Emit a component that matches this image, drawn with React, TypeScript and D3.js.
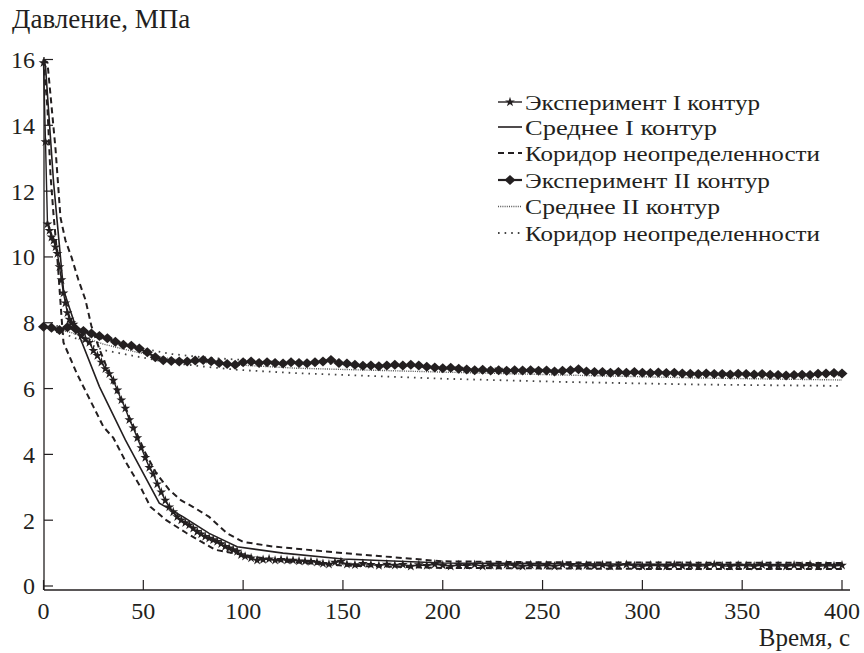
import React from "react";
import * as d3 from "d3";

// Эксперимент I контур [время, давление]
const expI: [number, number][] = [
  [0, 15.9], [1, 13.5], [2, 11.0], [3, 10.8], [4, 10.6], [5, 10.5], [6, 10.3], [7, 10.1], [8, 9.7], [9, 9.3],
  [10, 8.9], [11, 8.6], [12, 8.3], [13, 8.1], [14, 8.0], [15, 7.95], [17, 7.75], [19, 7.6], [21, 7.5], [23, 7.4],
  [25, 7.15], [27, 7.0], [29, 6.8], [31, 6.6], [33, 6.45], [35, 6.25], [37, 5.95], [39, 5.65], [41, 5.4], [43, 5.05],
  [45, 4.8], [47, 4.5], [49, 4.2], [51, 3.9], [53, 3.6], [55, 3.4], [57, 3.1], [59, 2.85], [61, 2.6], [63, 2.4],
  [65, 2.25], [67, 2.1], [69, 2.0], [71, 1.92], [73, 1.85], [75, 1.75], [77, 1.65], [79, 1.58], [81, 1.5], [83, 1.45],
  [85, 1.4], [87, 1.35], [89, 1.28], [91, 1.2], [93, 1.15], [95, 1.1], [97, 1.05], [99, 0.95], [101, 0.9], [104, 0.85],
  [107, 0.78], [110, 0.8], [113, 0.82], [116, 0.78], [119, 0.8], [122, 0.78], [125, 0.78], [128, 0.76], [131, 0.75], [134, 0.74],
  [137, 0.72], [140, 0.68], [143, 0.66], [146, 0.72], [149, 0.74], [152, 0.66], [156, 0.64], [160, 0.68], [164, 0.65], [168, 0.62],
  [172, 0.66], [176, 0.63], [180, 0.65], [184, 0.6], [188, 0.64], [192, 0.62], [196, 0.66], [200, 0.63], [204, 0.6], [208, 0.64],
  [212, 0.62], [216, 0.65], [220, 0.6], [224, 0.63], [228, 0.61], [232, 0.65], [236, 0.62], [240, 0.6], [244, 0.64], [248, 0.61],
  [252, 0.63], [256, 0.6], [260, 0.65], [264, 0.62], [268, 0.6], [272, 0.63], [276, 0.61], [280, 0.64], [284, 0.6], [288, 0.62],
  [292, 0.65], [296, 0.61], [300, 0.6], [304, 0.63], [308, 0.62], [312, 0.6], [316, 0.64], [320, 0.61], [324, 0.63], [328, 0.6],
  [332, 0.62], [336, 0.65], [340, 0.61], [344, 0.6], [348, 0.63], [352, 0.62], [356, 0.6], [360, 0.64], [364, 0.61], [368, 0.62],
  [372, 0.6], [376, 0.63], [380, 0.61], [384, 0.64], [388, 0.6], [392, 0.62], [396, 0.61], [400, 0.63],
];

// Среднее I контур
const meanI: [number, number][] = [
  [0, 16], [1, 15.8], [5, 12.3], [10, 9.0], [16, 7.9], [28, 6.06], [41, 4.44], [58, 2.52], [70, 2.1], [83, 1.6],
  [97, 1.19], [120, 1.0], [150, 0.82], [200, 0.7], [300, 0.66], [400, 0.65],
];

// Коридор неопределенности I (верх / низ)
const corridorIUp: [number, number][] = [
  [0, 16], [2, 15.9], [6, 13.3], [8.5, 11.2], [11, 10.5], [14, 10.0], [17.5, 9.3], [21, 8.7], [24, 7.9], [28, 7.2],
  [32, 6.6], [36, 6.0], [41, 5.4], [46.6, 4.65], [51, 4.05], [56.5, 3.43], [63, 2.92], [69, 2.6], [75, 2.4], [83, 2.1],
  [92, 1.6], [100, 1.34], [115, 1.2], [150, 1.0], [200, 0.75], [250, 0.72], [400, 0.7],
];
const corridorILow: [number, number][] = [
  [0, 16], [2, 14.5], [3.5, 12.5], [5, 11.3], [6.5, 10.3], [7.5, 9.5], [9, 8.2], [10, 7.4], [16.6, 6.47], [25, 5.45],
  [30, 4.84], [35, 4.5], [41.6, 3.73], [48.5, 3.02], [53.5, 2.41], [61.5, 2.0], [71.6, 1.61], [86, 1.1], [100, 0.94], [120, 0.75],
  [150, 0.62], [200, 0.55], [300, 0.52], [400, 0.52],
];

// Эксперимент II контур
const expII: [number, number][] = [
  [0, 7.88], [4, 7.85], [8, 7.78], [12, 7.86], [16, 7.82], [20, 7.75], [24, 7.67], [28, 7.6], [32, 7.53], [36, 7.42],
  [40, 7.33], [44, 7.3], [48, 7.22], [52, 7.1], [56, 6.95], [60, 6.86], [64, 6.84], [68, 6.82], [72, 6.82], [76, 6.85],
  [80, 6.87], [84, 6.83], [88, 6.78], [92, 6.75], [96, 6.72], [100, 6.8], [104, 6.82], [108, 6.78], [112, 6.8], [116, 6.78],
  [120, 6.76], [124, 6.8], [128, 6.78], [132, 6.77], [136, 6.8], [140, 6.82], [144, 6.87], [148, 6.78], [152, 6.76], [156, 6.72],
  [160, 6.69], [164, 6.7], [168, 6.68], [172, 6.7], [176, 6.72], [180, 6.7], [184, 6.72], [188, 6.7], [192, 6.66], [196, 6.64],
  [200, 6.62], [204, 6.63], [208, 6.6], [212, 6.58], [216, 6.56], [220, 6.57], [224, 6.55], [228, 6.56], [232, 6.54], [236, 6.56],
  [240, 6.55], [244, 6.56], [248, 6.54], [252, 6.55], [256, 6.52], [260, 6.54], [264, 6.56], [268, 6.59], [272, 6.52], [276, 6.5],
  [280, 6.5], [284, 6.48], [288, 6.5], [292, 6.48], [296, 6.5], [300, 6.48], [304, 6.47], [308, 6.49], [312, 6.47], [316, 6.48],
  [320, 6.46], [324, 6.45], [328, 6.44], [332, 6.46], [336, 6.44], [340, 6.44], [344, 6.43], [348, 6.45], [352, 6.44], [356, 6.43],
  [360, 6.44], [364, 6.42], [368, 6.41], [372, 6.4], [376, 6.41], [380, 6.42], [384, 6.41], [388, 6.45], [392, 6.46], [396, 6.47],
  [400, 6.46],
];

// Среднее II контур
const meanII: [number, number][] = [
  [0, 7.9], [14, 7.7], [30, 7.35], [47, 7.1], [64, 6.9], [80, 6.8], [97, 6.72], [126, 6.62], [200, 6.5], [262, 6.41],
  [330, 6.32], [400, 6.26],
];

// Коридор неопределенности II
const corridorIIUp: [number, number][] = [
  [0, 8.0], [14, 7.8], [30, 7.5], [47, 7.25], [64, 7.05], [80, 6.95], [97, 6.88], [126, 6.78], [200, 6.65], [300, 6.5],
  [400, 6.4],
];
const corridorIILow: [number, number][] = [
  [0, 7.84], [14, 7.58], [30, 7.17], [47, 6.97], [64, 6.78], [80, 6.67], [97, 6.57], [126, 6.47], [200, 6.3], [262, 6.2],
  [330, 6.12], [400, 6.08],
];

const xTicks = [0, 50, 100, 150, 200, 250, 300, 350, 400];
const yTicks = [0, 2, 4, 6, 8, 10, 12, 14, 16];

const legendLabels = [
  "Эксперимент I контур",
  "Среднее I контур",
  "Коридор неопределенности",
  "Эксперимент II контур",
  "Среднее II контур",
  "Коридор неопределенности",
];
// ширина подписей легенды, как на оригинале
const legendWidths = [235, 192, 295, 245, 195, 295];

const INK = "#231f20";
const FONT = "Liberation Serif, DejaVu Serif, serif";

export default function App() {
  const width = 864;
  const height = 653;

  const x = d3.scaleLinear().domain([0, 400]).range([43.5, 842]);
  const y = d3.scaleLinear().domain([0, 16]).range([586, 59.5]);

  const line = d3
    .line<[number, number]>()
    .x((d) => x(d[0]))
    .y((d) => y(d[1]));

  const star = d3.symbol().type(d3.symbolStar).size(30)();
  const diamond = "M0,-5L5.5,0L0,5L-5.5,0Z";

  const styles = {
    expI: { stroke: INK, strokeWidth: 1.4 },
    meanI: { stroke: INK, strokeWidth: 1.6 },
    corrI: { stroke: INK, strokeWidth: 2, strokeDasharray: "6 4" },
    expII: { stroke: INK, strokeWidth: 2.2 },
    meanII: { stroke: "#555", strokeWidth: 1.4, strokeDasharray: "1 1.2" },
    corrII: { stroke: "#444", strokeWidth: 1.8, strokeDasharray: "1.6 5" },
  };

  const legendX = 498;
  const legendY = [102, 127, 153, 180, 206.5, 233];
  const txt = { fontFamily: FONT, fill: INK };

  return (
    <svg
      width={width}
      height={height}
      style={{ position: "absolute", left: 0, top: 0, background: "#fff" }}
    >
      {/* оси */}
      <line x1={44} x2={44} y1={57} y2={590} stroke={INK} strokeWidth={1.3} />
      <line x1={44} x2={850} y1={590} y2={590} stroke={INK} strokeWidth={1.3} />
      {yTicks.map((t) => (
        <g key={"y" + t}>
          <line x1={44} x2={53} y1={y(t)} y2={y(t)} stroke={INK} strokeWidth={1.2} />
          <text x={35} y={y(t)} dy="0.35em" textAnchor="end" style={{ ...txt, fontSize: 24 }}>
            {t}
          </text>
        </g>
      ))}
      {xTicks.map((t) => (
        <g key={"x" + t}>
          <line x1={x(t)} x2={x(t)} y1={590} y2={580} stroke={INK} strokeWidth={1.2} />
          <text x={x(t)} y={619} textAnchor="middle" style={{ ...txt, fontSize: 24 }}>
            {t}
          </text>
        </g>
      ))}
      <text x={12} y={28} style={{ ...txt, fontSize: 27 }}>
        Давление, МПа
      </text>
      <text x={850} y={646} textAnchor="end" style={{ ...txt, fontSize: 25 }}>
        Время, с
      </text>

      {/* II контур */}
      <path d={line(corridorIIUp) || ""} fill="none" {...styles.corrII} />
      <path d={line(corridorIILow) || ""} fill="none" {...styles.corrII} />
      <path d={line(meanII) || ""} fill="none" {...styles.meanII} />
      <path d={line(expII) || ""} fill="none" {...styles.expII} />
      {expII.map((d, i) => (
        <path key={"d" + i} d={diamond} transform={`translate(${x(d[0])},${y(d[1])})`} fill={INK} />
      ))}

      {/* I контур */}
      <path d={line(corridorIUp) || ""} fill="none" {...styles.corrI} />
      <path d={line(corridorILow) || ""} fill="none" {...styles.corrI} />
      <path d={line(meanI) || ""} fill="none" {...styles.meanI} />
      <path d={line(expI) || ""} fill="none" {...styles.expI} />
      {expI.map((d, i) => (
        <path key={"s" + i} d={star || ""} transform={`translate(${x(d[0])},${y(d[1])})`} fill={INK} />
      ))}

      {/* легенда */}
      {legendLabels.map((label, i) => {
        const ly = legendY[i];
        const s = [styles.expI, styles.meanI, styles.corrI, styles.expII, styles.meanII, styles.corrII][i];
        return (
          <g key={"l" + i}>
            <line x1={legendX} x2={legendX + 24} y1={ly} y2={ly} {...s} />
            {i === 0 && <path d={star || ""} transform={`translate(${legendX + 12},${ly})`} fill={INK} />}
            {i === 3 && <path d={diamond} transform={`translate(${legendX + 12},${ly})`} fill={INK} />}
            <text
              x={legendX + 27}
              y={ly}
              dy="0.35em"
              textLength={legendWidths[i]}
              lengthAdjust="spacingAndGlyphs"
              style={{ ...txt, fontSize: 22 }}
            >
              {label}
            </text>
          </g>
        );
      })}
    </svg>
  );
}
